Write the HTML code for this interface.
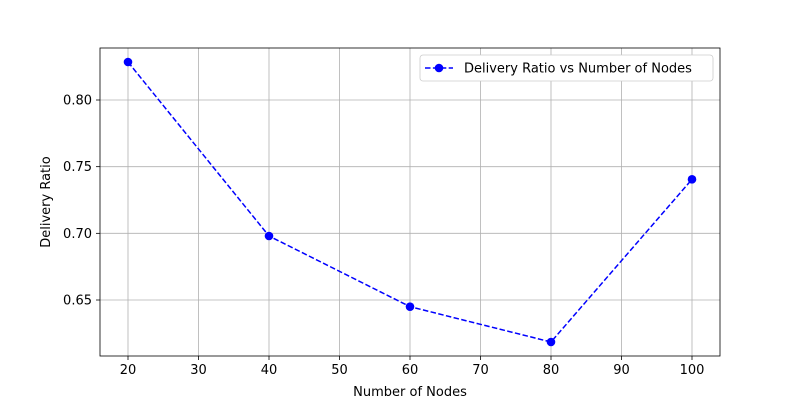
<!DOCTYPE html>
<html><head><meta charset="utf-8"><style>
body{margin:0;background:#fff;font-family:"Liberation Sans","DejaVu Sans",sans-serif;}
svg text{font-family:"DejaVu Sans","Liberation Sans",sans-serif;font-size:13px;fill:#000;}
</style></head><body>
<svg id="chart" width="800" height="400" xmlns="http://www.w3.org/2000/svg"></svg>
<script>
const categories=[20,40,60,80,100];
const deliveryRatio=[0.8285,0.698,0.645,0.6185,0.7405];
const xTicks=[20,30,40,50,60,70,80,90,100];
const yTicks=[0.65,0.70,0.75,0.80];
const yTickLabels=["0.65","0.70","0.75","0.80"];
const L=100,R=720,T=48,B=356;
const xs=v=>128+(v-20)*(692-128)/80;
const ys=v=>300-(v-0.65)*(200/0.15);
const svg=document.getElementById('chart');
const NS='http://www.w3.org/2000/svg';
function mk(t,a,p){const e=document.createElementNS(NS,t);for(const k in a)e.setAttribute(k,a[k]);(p||svg).appendChild(e);return e;}
xTicks.forEach(v=>{const x=xs(v);
const g=mk('line',{x1:x,x2:x,y1:T,y2:B,stroke:'#b0b0b0','stroke-width':0.8});


mk('line',{x1:x,x2:x,y1:B,y2:B+4,stroke:'#000','stroke-width':0.8});
const t=mk('text',{x:x,y:B+18,'text-anchor':'middle'});t.textContent=v;

});
yTicks.forEach((v,i)=>{const y=ys(v);
const g=mk('line',{x1:L,x2:R,y1:y,y2:y,stroke:'#b0b0b0','stroke-width':0.8});


mk('line',{x1:L-4,x2:L,y1:y,y2:y,stroke:'#000','stroke-width':0.8});
const t=mk('text',{x:L-8,y:y+4.5,'text-anchor':'end'});t.textContent=yTickLabels[i];

});
const pts=categories.map((c,i)=>xs(c)+','+ys(deliveryRatio[i])).join(' ');
const line=mk('polyline',{points:pts,fill:'none',stroke:'#0000ff','stroke-width':1.5,'stroke-dasharray':'5.5,2.4'});


categories.forEach((c,i)=>{const p=mk('circle',{cx:xs(c),cy:ys(deliveryRatio[i]),r:4.3,fill:'#0000ff'});

});
const fr=mk('rect',{x:L,y:T,width:R-L,height:B-T,fill:'none',stroke:'#000','stroke-width':0.8});


const xt=mk('text',{x:410,y:396,'text-anchor':'middle'});xt.textContent='Number of Nodes';


const yt=mk('text',{x:50,y:202,'text-anchor':'middle',transform:'rotate(-90 50 202)'});yt.textContent='Delivery Ratio';


const lg=mk('g',{});


mk('rect',{x:420,y:55,width:293,height:26,rx:3,fill:'#fff',stroke:'#ccc','stroke-width':0.8},lg);
mk('line',{x1:425,x2:453,y1:68,y2:68,stroke:'#0000ff','stroke-width':1.5,'stroke-dasharray':'5.5,2.4'},lg);
mk('circle',{cx:439,cy:68,r:4.3,fill:'#0000ff'},lg);
const lt=mk('text',{x:464,y:72.5},lg);lt.textContent='Delivery Ratio vs Number of Nodes';


</script>
</body></html>
